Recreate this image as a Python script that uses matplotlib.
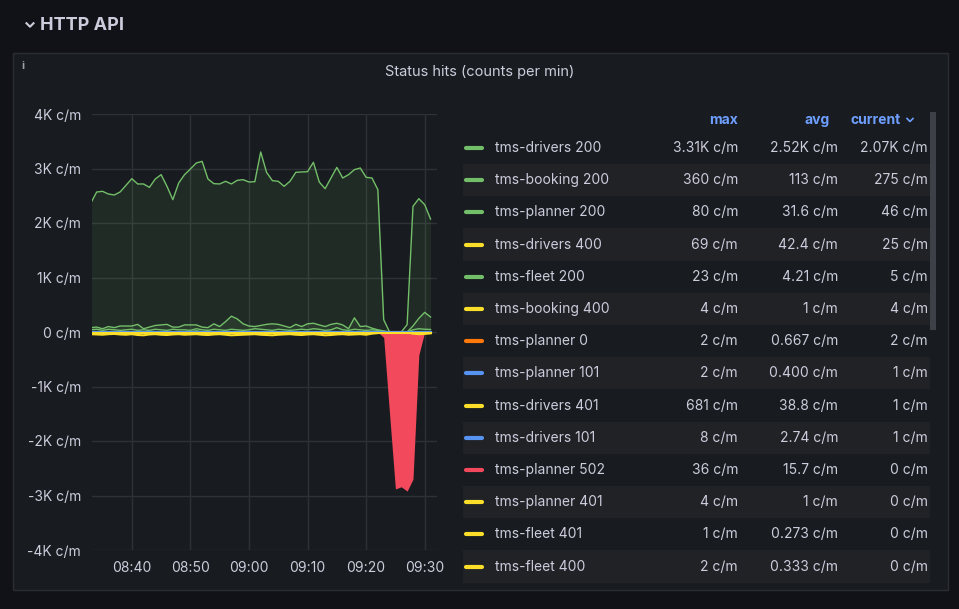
import numpy as np
import matplotlib
matplotlib.use('Agg')
import matplotlib.pyplot as plt
from matplotlib.patches import Rectangle

plt.rcParams['font.family'] = ['Inter', 'DejaVu Sans']

W, H = 959, 609
BG = '#111217'
PANEL = '#181b1f'
TXT = '#ccccdc'
GREEN, YELLOW, ORANGE, BLUE, RED = '#73bf69', '#fade2a', '#ff780a', '#5794f2', '#f2495c'

# minutes past 08:00
minutes = np.arange(33, 92)

drivers_200 = [2367, 2569, 2581, 2532, 2514, 2569, 2691, 2813, 2716, 2716, 2654, 2807, 2887, 2673,
               2428, 2734, 2887, 2991, 3101, 3131, 2807, 2722, 2716, 2765, 2716, 2783, 2795, 2752,
               2758, 3303, 2930, 2777, 2765, 2673, 2765, 2930, 2936, 2942, 3113, 2752, 2630, 2826,
               3021, 2826, 2887, 2979, 3009, 2838, 2826, 2612, 226, 0, 0, 0, 135, 2306, 2446, 2336, 2073]
booking_200 = [80, 90, 60, 100, 80, 110, 110, 110, 140, 60, 90, 120, 130, 140, 90, 90, 130, 130, 130,
               90, 80, 150, 100, 190, 290, 240, 150, 110, 100, 120, 140, 150, 140, 110, 80, 140, 100,
               150, 160, 130, 100, 140, 160, 130, 60, 260, 100, 110, 70, 40, 20, 0, 0, 0, 0, 110, 250,
               360, 275]
planner_200 = [40, 50, 30, 50, 40, 30, 40, 50, 30, 40, 30, 50, 40, 30, 50, 40, 40, 30, 60, 40, 30, 50,
               40, 30, 50, 40, 30, 40, 60, 50, 40, 30, 50, 40, 30, 40, 50, 40, 60, 50, 30, 40, 80, 40,
               30, 50, 40, 30, 40, 30, 10, 0, 0, 0, 0, 40, 60, 50, 46]
fleet_200 = [5, 4, 6, 3, 5, 4, 3, 5, 6, 4, 3, 5, 4, 6, 3, 5, 4, 5, 23, 4, 3, 5, 4, 6, 3, 5, 4, 3, 5, 4,
             6, 3, 5, 4, 3, 5, 4, 6, 3, 5, 4, 3, 5, 4, 6, 3, 5, 4, 3, 5, 0, 0, 0, 0, 0, 4, 6, 5, 5]
drivers_400 = [-40, -45, -50, -40, -35, -45, -50, -40, -55, -60, -45, -40, -50, -55, -45, -40, -50,
               -45, -40, -50, -55, -45, -40, -50, -60, -55, -50, -45, -40, -50, -55, -60, -50, -45,
               -40, -50, -55, -45, -40, -50, -60, -55, -45, -40, -50, -45, -40, -50, -30, -20, 0, 0,
               0, 0, -10, -30, -40, -35, -25]
planner_502 = [0] * 50 + [-100, -1500, -2880, -2840, -2920, -2700, -420, 0, 0]

legend_rows = [
    ('tms-drivers 200', GREEN, '3.31K c/m', '2.52K c/m', '2.07K c/m'),
    ('tms-booking 200', GREEN, '360 c/m', '113 c/m', '275 c/m'),
    ('tms-planner 200', GREEN, '80 c/m', '31.6 c/m', '46 c/m'),
    ('tms-drivers 400', YELLOW, '69 c/m', '42.4 c/m', '25 c/m'),
    ('tms-fleet 200', GREEN, '23 c/m', '4.21 c/m', '5 c/m'),
    ('tms-booking 400', YELLOW, '4 c/m', '1 c/m', '4 c/m'),
    ('tms-planner 0', ORANGE, '2 c/m', '0.667 c/m', '2 c/m'),
    ('tms-planner 101', BLUE, '2 c/m', '0.400 c/m', '1 c/m'),
    ('tms-drivers 401', YELLOW, '681 c/m', '38.8 c/m', '1 c/m'),
    ('tms-drivers 101', BLUE, '8 c/m', '2.74 c/m', '1 c/m'),
    ('tms-planner 502', RED, '36 c/m', '15.7 c/m', '0 c/m'),
    ('tms-planner 401', YELLOW, '4 c/m', '1 c/m', '0 c/m'),
    ('tms-fleet 401', YELLOW, '1 c/m', '0.273 c/m', '0 c/m'),
    ('tms-fleet 400', YELLOW, '2 c/m', '0.333 c/m', '0 c/m'),
]

fig = plt.figure(figsize=(W / 100, H / 100), dpi=100, facecolor=BG)


def px(x, y):
    return x / W, 1 - y / H


def chevron(x, y, size, color, lw):
    fig.lines.append(plt.Line2D([(x - size) / W, x / W, (x + size) / W],
                                [1 - (y - size / 2) / H, 1 - (y + size / 2) / H, 1 - (y - size / 2) / H],
                                transform=fig.transFigure, color=color, lw=lw))


# section header and panel
chevron(30, 25, 3.5, TXT, 1.5)
fig.text(*px(40, 25), 'HTTP API', color=TXT, fontsize=13, fontweight='bold', ha='left', va='center')
fig.patches.append(Rectangle(px(13, 590), 935 / W, 537 / H, transform=fig.transFigure,
                             facecolor=PANEL, edgecolor='#2a2d33', lw=1, zorder=-5))
fig.text(*px(480, 72), 'Status hits (counts per min)', color=TXT, fontsize=10.5, ha='center', va='center')
fig.text(*px(23, 66), 'i', color='#9fa1a8', fontsize=8, fontweight='bold', ha='center', va='center')

ax = fig.add_axes([92 / W, 1 - 550 / H, 345 / W, 436 / H], facecolor=PANEL, zorder=2)
ax.fill_between(minutes, drivers_200, color=GREEN, alpha=0.1, lw=0)
ax.fill_between(minutes, booking_200, color=GREEN, alpha=0.1, lw=0)
ax.plot(minutes, drivers_200, color=GREEN, lw=1)
ax.plot(minutes, booking_200, color=GREEN, lw=1)
ax.plot(minutes, planner_200, color=GREEN, lw=1)
ax.plot(minutes, fleet_200, color=GREEN, lw=1)
ax.plot(minutes, drivers_400, color=YELLOW, lw=1.5)
ax.plot(minutes, np.zeros(len(minutes)), color=BLUE, lw=1.5)
ax.fill_between(minutes, planner_502, color=RED, lw=0, alpha=1)
ax.plot(minutes, np.full(len(minutes), -15), color=YELLOW, lw=1.5)

ax.set_xlim(33.2, 92.1)
ax.set_ylim(-4000, 4000)
ax.set_xticks([40, 50, 60, 70, 80, 90])
ax.set_xticklabels(['08:40', '08:50', '09:00', '09:10', '09:20', '09:30'])
yt = [-4000, -3000, -2000, -1000, 0, 1000, 2000, 3000, 4000]
ax.set_yticks(yt)
ax.set_yticklabels(['%dK c/m' % (v // 1000) if v else '0 c/m' for v in yt])
ax.grid(True, color='#2f3136', lw=1)
ax.set_axisbelow(True)
for s in ax.spines.values():
    s.set_visible(False)
ax.tick_params(colors=TXT, labelsize=10, length=0, pad=8)

# legend table
fig.patches.append(Rectangle(px(930, 330), 6 / W, 218 / H, transform=fig.transFigure,
                             facecolor='#3d4046', lw=0))
for lbl, x in (('max', 738), ('avg', 830), ('current', 901)):
    fig.text(*px(x, 120), lbl, color='#6e9fff', fontsize=10, fontweight='bold', ha='right', va='center')
chevron(910, 120, 3, '#6e9fff', 1.2)
for i, (name, col, mx, av, cur) in enumerate(legend_rows):
    y = 148 + i * 32.2
    if i % 2 == 1:
        fig.patches.append(Rectangle(px(463, y + 16), 467 / W, 32.2 / H, transform=fig.transFigure,
                                     facecolor='#202226', lw=0))
    fig.lines.append(plt.Line2D([466 / W, 482 / W], [1 - y / H] * 2, transform=fig.transFigure,
                                color=col, lw=3, solid_capstyle='round'))
    fig.text(*px(495, y), name, color=TXT, fontsize=10, ha='left', va='center')
    fig.text(*px(738, y), mx, color=TXT, fontsize=10, ha='right', va='center')
    fig.text(*px(838, y), av, color=TXT, fontsize=10, ha='right', va='center')
    fig.text(*px(928, y), cur, color=TXT, fontsize=10, ha='right', va='center')

fig.savefig('out.png', dpi=100, facecolor=BG)
